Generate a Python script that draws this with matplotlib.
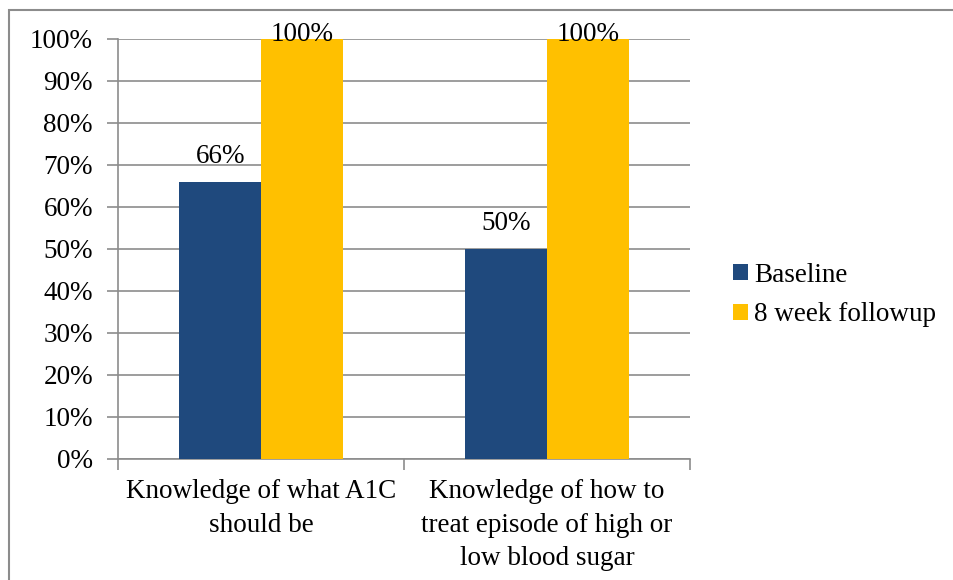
import matplotlib
matplotlib.use("Agg")
import matplotlib.pyplot as plt
from matplotlib.patches import Rectangle
import numpy as np

categories = ["Knowledge of what A1C\nshould be",
              "Knowledge of how to\ntreat episode of high or\nlow blood sugar"]
baseline = [66, 50]
followup = [100, 100]
series_names = ["Baseline", "8 week followup"]
colors = ["#1F497D", "#FFC000"]

plt.rcParams["font.family"] = ["Liberation Serif", "DejaVu Serif"]
FS = 19.5

fig = plt.figure(figsize=(9.54, 5.8), dpi=100)
# outer chart border
fig.patches.append(Rectangle((9 / 954, -0.01), 1.2, 1 - 10 / 580 + 0.01,
                             transform=fig.transFigure, fill=False,
                             edgecolor="#8c8c8c", linewidth=1.5))

ax = fig.add_axes([118 / 954, 1 - 459 / 580, (690 - 118) / 954, (459 - 39) / 580])

x = np.arange(len(categories))
w = 0.285
b1 = ax.bar(x - w / 2, baseline, w, color=colors[0], label=series_names[0], zorder=3)
b2 = ax.bar(x + w / 2, followup, w, color=colors[1], label=series_names[1], zorder=3)

# value labels, pushed down inside the plot area when they would not fit (like Excel)
for bars, vals in ((b1, baseline), (b2, followup)):
    for bar, v in zip(bars, vals):
        ax.text(bar.get_x() + bar.get_width() / 2, min(v + 4.5, 99.5), f"{v}%",
                ha="center", va="baseline", fontsize=FS, zorder=4)

ax.set_xlim(-0.5, 1.5)
ax.set_ylim(0, 100)
ax.set_yticks(range(0, 101, 10))
ax.set_yticklabels([f"{t}%" for t in range(0, 101, 10)], fontsize=FS)
ax.yaxis.grid(True, color="#8c8c8c", linewidth=1.2, zorder=0)

# category boundary ticks
ax.set_xticks([-0.5, 0.5, 1.5])
ax.set_xticklabels([])
ax.tick_params(axis="x", length=8, width=1.2, color="#8c8c8c")
ax.tick_params(axis="y", length=8, width=1.2, color="#8c8c8c", pad=10)
for i, cat in enumerate(categories):
    ax.text(i, -4.8, cat, ha="center", va="top", fontsize=FS,
            linespacing=1.45, transform=ax.transData)

for side in ("top", "right"):
    ax.spines[side].set_visible(False)
for side in ("left", "bottom"):
    ax.spines[side].set_color("#8c8c8c")
    ax.spines[side].set_linewidth(1.2)

fig.legend(handles=[b1, b2], labels=series_names, loc="center left",
           bbox_to_anchor=(733 / 954, 1 - 295 / 580), frameon=False,
           fontsize=FS, handlelength=0.55, handleheight=0.55, handletextpad=0.22,
           labelspacing=0.55, borderaxespad=0, borderpad=0)

fig.savefig("out.png", dpi=100)
